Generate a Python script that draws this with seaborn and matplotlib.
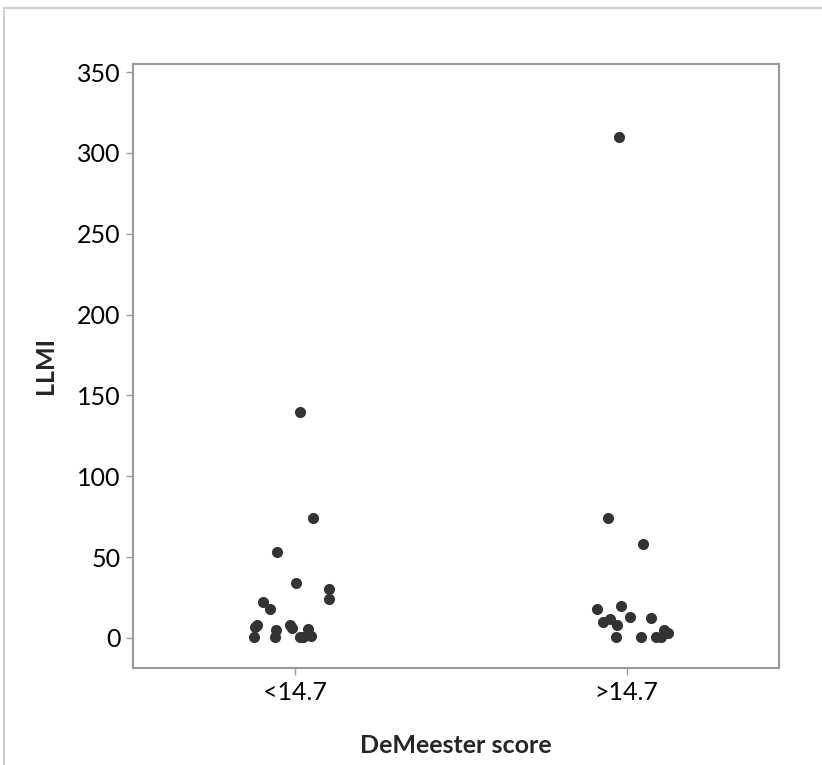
import numpy as np
import pandas as pd
import matplotlib
matplotlib.use("Agg")
import matplotlib.pyplot as plt
from matplotlib.lines import Line2D
import seaborn as sns

# values
groups = ["<14.7", ">14.7"]
llmi_low = [140, 74, 53, 34, 30, 24, 22, 18, 8, 8, 7, 6, 5.5, 5, 1, 0.5, 0.5, 0.5, 0.5]
llmi_high = [310, 74, 58, 19.5, 18, 13, 12.5, 11.5, 10, 8, 5, 3, 0.5, 0.5, 0.5, 0.5]
y_ticks = [0, 50, 100, 150, 200, 250, 300, 350]

df = pd.DataFrame({
    "group": [groups[0]] * len(llmi_low) + [groups[1]] * len(llmi_high),
    "LLMI": llmi_low + llmi_high,
})

sns.set_style("white")
plt.rcParams["font.family"] = ["Lato", "DejaVu Sans"]

fig = plt.figure(figsize=(8.22, 7.65), dpi=100)
ax = fig.add_axes([133 / 822, 1 - 668 / 765, (779 - 133) / 822, (668 - 64) / 765])

np.random.seed(3)
sns.stripplot(data=df, x="group", y="LLMI", order=groups, jitter=0.13,
              color="#333333", size=8, linewidth=0, ax=ax)

ax.set_xlim(-0.49, 1.46)
ax.set_ylim(-18.6, 355)
ax.set_yticks(y_ticks)
ax.set_xlabel("DeMeester score", fontsize=18, fontweight="bold", labelpad=22)
ax.set_ylabel("LLMI", fontsize=18, fontweight="bold", labelpad=14)
ax.tick_params(axis="both", labelsize=18, colors="#999999", labelcolor="black",
               direction="out", length=5, width=1, left=True, bottom=True, pad=4)
for s in ax.spines.values():
    s.set_color("#999999")
    s.set_linewidth(1.5)

# light frame around the figure (top and left edges)
fig.add_artist(Line2D([4 / 822, 1], [1 - 8 / 765, 1 - 8 / 765], color="#d0d0d0", lw=1.5,
                      transform=fig.transFigure))
fig.add_artist(Line2D([4 / 822, 4 / 822], [0, 1 - 8 / 765], color="#d0d0d0", lw=1.5,
                      transform=fig.transFigure))

fig.savefig("out.png", dpi=100)
plt.close(fig)
